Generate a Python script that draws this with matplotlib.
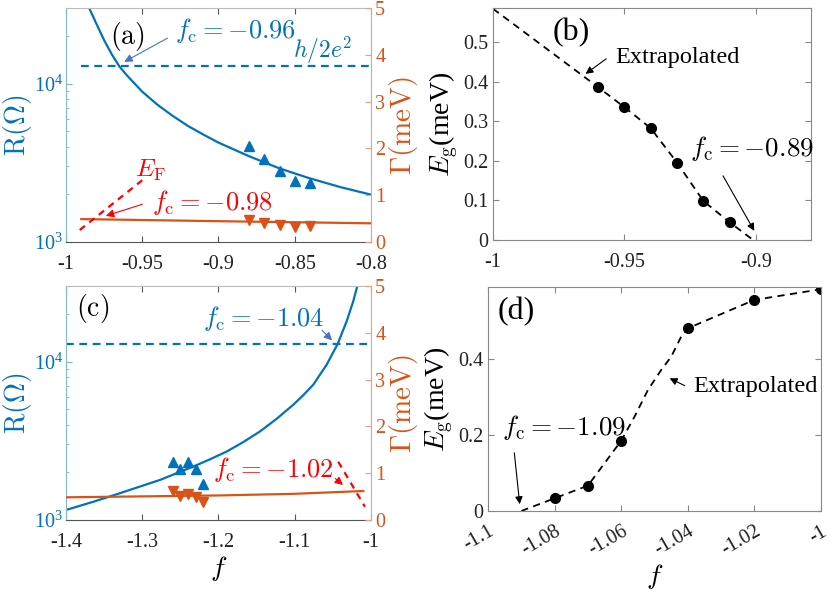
import matplotlib.pyplot as plt
import matplotlib.ticker as mticker

plt.rcParams['font.family'] = ['Liberation Serif', 'DejaVu Serif']
plt.rcParams['mathtext.fontset'] = 'cm'
plt.rcParams['axes.unicode_minus'] = False

BLUE = '#0072BD'
ORANGE = '#D95319'
RED = '#FF0000'
ARROW_BLUE = '#4A72C8'
GREY = '#555555'

# quantum resistance h/2e^2 in ohm
h2e2 = 12906

# ---- panel (a) data ----
fa_fit = [-0.985, -0.98, -0.975, -0.97, -0.965, -0.96, -0.95, -0.94, -0.93,
          -0.92, -0.91, -0.90, -0.88, -0.86, -0.84, -0.82, -0.80]
Ra_fit = [30270, 23770, 18790, 15310, 12830, 11250, 8890, 7350, 6250,
          5400, 4770, 4240, 3480, 2915, 2520, 2220, 1990]
fa_pts = [-0.88, -0.87, -0.86, -0.85, -0.84]
Ra_pts = [4045, 3325, 2804, 2421, 2365]
Ga_pts = [0.47, 0.41, 0.36, 0.33, 0.35]
fa_gfit = [-0.99, -0.9, -0.8]
Ga_gfit = [0.49, 0.445, 0.40]
fa_ef = [-0.991, -0.950]
Ga_ef = [0.256, 1.32]
fa_h = [-0.99, -0.80]

# ---- panel (c) data ----
fc_fit = [-1.400, -1.364, -1.3335, -1.2767, -1.233, -1.2112, -1.1892, -1.1675,
          -1.1456, -1.1237, -1.1019, -1.0888, -1.0757, -1.0581, -1.0437,
          -1.0319, -1.0232, -1.0174]
Rc_fit = [1157, 1305, 1454, 1791, 2175, 2416, 2706, 3105,
          3623, 4355, 5343, 6138, 7152, 9572, 12940,
          17990, 24100, 30690]
fc_pts = [-1.26, -1.25, -1.24, -1.23, -1.22]
Rc_pts = [2317, 2094, 2339, 2094, 1690]
Gc_pts = [0.62, 0.51, 0.55, 0.485, 0.38]
fc_gfit = [-1.40, -1.20, -1.10, -1.01]
Gc_gfit = [0.485, 0.525, 0.56, 0.62]
fc_ef = [-1.043, -1.008]
Gc_ef = [1.246, 0.284]
fc_h = [-1.40, -1.00]

# ---- panel (b) data ----
fb_pts = [-0.96, -0.95, -0.94, -0.93, -0.92, -0.91]
Eb_pts = [0.3865, 0.336, 0.283, 0.196, 0.099, 0.045]
fb_line = [-1.0, -0.96, -0.95, -0.94, -0.93, -0.92, -0.91, -0.901]
Eb_line = [0.585, 0.3865, 0.336, 0.283, 0.196, 0.099, 0.045, 0.0]

# ---- panel (d) data ----
fd_pts = [-1.08, -1.07, -1.06, -1.04, -1.02, -1.00]
Ed_pts = [0.0335, 0.067, 0.1855, 0.482, 0.557, 0.585]
fd_line = [-1.09, -1.08, -1.07, -1.06, -1.056, -1.052, -1.048, -1.045,
           -1.042, -1.04, -1.02, -1.00]
Ed_line = [0.0, 0.0335, 0.067, 0.1855, 0.249, 0.319, 0.372, 0.407,
           0.46, 0.482, 0.557, 0.585]

xa_ticks = [-1, -0.95, -0.9, -0.85, -0.8]
xa_labels = ['-1', '-0.95', '-0.9', '-0.85', '-0.8']
xc_ticks = [-1.4, -1.3, -1.2, -1.1, -1.0]
xc_labels = ['-1.4', '-1.3', '-1.2', '-1.1', '-1']
xb_ticks = [-1, -0.95, -0.9]
xb_labels = ['-1', '-0.95', '-0.9']
yb_ticks = [0, 0.1, 0.2, 0.3, 0.4, 0.5]
yb_labels = ['0', '0.1', '0.2', '0.3', '0.4', '0.5']
xd_ticks = [-1.1, -1.08, -1.06, -1.04, -1.02, -1.0]
xd_labels = ['-1.1', '-1.08', '-1.06', '-1.04', '-1.02', '-1']
yd_ticks = [0, 0.2, 0.4]
yd_labels = ['0', '0.2', '0.4']
g_ticks = [0, 1, 2, 3, 4, 5]

TICK_FS = 14.5
fig = plt.figure(figsize=(8.3, 5.91), dpi=100)


def rg_panel(rect, xlim, xticks, xlabels, f_fit, R_fit, f_pts, R_pts, G_pts,
             f_gfit, G_gfit, f_ef, G_ef, f_h):
    ax = fig.add_axes(rect)
    ax2 = ax.twinx()
    ax.set_yscale('log')
    ax.set_ylim(1e3, 3e4)
    ax.set_xlim(*xlim)
    ax2.set_ylim(0, 5)
    ax.set_xticks(xticks)
    ax.set_xticklabels(xlabels)
    ax.set_yticks([1e3, 1e4])
    ax.yaxis.set_major_formatter(mticker.LogFormatterMathtext())
    ax.yaxis.set_minor_formatter(mticker.NullFormatter())
    ax2.set_yticks(g_ticks)

    ax.plot(f_fit, R_fit, color=BLUE, lw=1.6)
    ax.plot(f_h, [h2e2, h2e2], color=BLUE, lw=1.6, ls=(0, (3.5, 2.5)))
    ax.plot(f_pts, R_pts, '^', color=BLUE, ms=7, ls='none')
    ax2.plot(f_gfit, G_gfit, color=ORANGE, lw=1.6)
    ax2.plot(f_pts, G_pts, 'v', color=ORANGE, ms=7, ls='none')
    ax2.plot(f_ef, G_ef, color=RED, lw=1.6, ls=(0, (3, 2.5)))

    for s in ['left', 'right', 'top', 'bottom']:
        ax2.spines[s].set_visible(s == 'right')
    ax.spines['right'].set_visible(False)
    ax.spines['left'].set_color('#7FB8DE')
    ax.spines['top'].set_color('#BBBBBB')
    ax.spines['bottom'].set_color(GREY)
    ax2.spines['right'].set_color('#E8A080')
    for sp in list(ax.spines.values()) + list(ax2.spines.values()):
        sp.set_linewidth(0.8)

    ax.tick_params(axis='x', which='both', direction='in', top=True,
                   labelsize=TICK_FS, length=4, colors=GREY, labelcolor='#222222', pad=9)
    ax.tick_params(axis='y', which='both', direction='in', right=False,
                   colors='#7FB8DE', labelcolor=BLUE, labelsize=TICK_FS, pad=2)
    ax.tick_params(axis='y', which='major', length=4)
    ax.tick_params(axis='y', which='minor', length=2.5)
    ax2.tick_params(axis='y', direction='in', colors='#E8A080',
                    labelcolor=ORANGE, labelsize=TICK_FS, length=4, pad=3)
    ax.set_ylabel(r'$\mathrm{R}(\Omega)$', color=BLUE, fontsize=20, labelpad=0)
    ax2.set_ylabel(r'$\Gamma(\mathrm{meV})$', color=ORANGE, fontsize=21, labelpad=1)
    return ax, ax2


# ---- (a) ----
ax, ax2 = rg_panel([0.0795, 0.5905, 0.3675, 0.396], (-1, -0.8), xa_ticks, xa_labels,
                   fa_fit, Ra_fit, fa_pts, Ra_pts, Ga_pts, fa_gfit, Ga_gfit,
                   fa_ef, Ga_ef, fa_h)
ax.text(0.144, 0.88, r'$\mathrm{(a)}$', transform=ax.transAxes, fontsize=20, va='center')
ax.text(0.357, 0.902, r'$f_\mathrm{c}=-0.96$', transform=ax.transAxes,
        fontsize=19, color=BLUE, va='center')
ax.text(0.744, 0.8205, r'$h/2e^2$', transform=ax.transAxes,
        fontsize=17, color=BLUE, va='center')
ax.annotate('', xy=(0.183, 0.764), xytext=(0.341, 0.877), xycoords='axes fraction',
            arrowprops=dict(arrowstyle='-|>', color=ARROW_BLUE, lw=0.8, mutation_scale=12))
ax.text(0.226, 0.308, r'$E_\mathrm{F}$', transform=ax.transAxes,
        fontsize=18, color=RED, va='center')
ax.text(0.282, 0.167, r'$f_\mathrm{c}=-0.98$', transform=ax.transAxes,
        fontsize=19, color=RED, va='center')
ax.annotate('', xy=(0.122, 0.108), xytext=(0.259, 0.165), xycoords='axes fraction',
            arrowprops=dict(arrowstyle='-|>', color=RED, lw=0.8, mutation_scale=12))

# ---- (c) ----
ax, ax2 = rg_panel([0.0795, 0.1201, 0.3675, 0.396], (-1.4, -1.0), xc_ticks, xc_labels,
                   fc_fit, Rc_fit, fc_pts, Rc_pts, Gc_pts, fc_gfit, Gc_gfit,
                   fc_ef, Gc_ef, fc_h)
ax.set_xlabel(r'$f$', fontsize=20, labelpad=2)
ax.text(0.033, 0.902, r'$\mathrm{(c)}$', transform=ax.transAxes, fontsize=20, va='center')
ax.text(0.449, 0.863, r'$f_\mathrm{c}=-1.04$', transform=ax.transAxes,
        fontsize=19, color=BLUE, va='center')
ax.annotate('', xy=(0.879, 0.759), xytext=(0.833, 0.819), xycoords='axes fraction',
            arrowprops=dict(arrowstyle='-|>', color=ARROW_BLUE, lw=0.8, mutation_scale=12))
ax.text(0.482, 0.214, r'$f_\mathrm{c}=-1.02$', transform=ax.transAxes,
        fontsize=19, color=RED, va='center')
ax.annotate('', xy=(0.915, 0.142), xytext=(0.876, 0.185), xycoords='axes fraction',
            arrowprops=dict(arrowstyle='-|>', color=RED, lw=0.8, mutation_scale=12))


def eg_panel(rect, xlim, ylim, xticks, xlabels, yticks, ylabels, f_line, E_line, f_pts, E_pts):
    ax = fig.add_axes(rect)
    ax.plot(f_line, E_line, color='black', lw=1.3, ls=(0, (4, 3)))
    ax.plot(f_pts, E_pts, 'o', color='black', ms=7, ls='none')
    ax.set_xlim(*xlim)
    ax.set_ylim(*ylim)
    ax.set_xticks(xticks)
    ax.set_xticklabels(xlabels)
    ax.set_yticks(yticks)
    ax.set_yticklabels(ylabels)
    for sp in ax.spines.values():
        sp.set_color('#888888')
        sp.set_linewidth(0.8)
    ax.tick_params(direction='in', top=True, right=True, length=4,
                   colors='#888888', labelcolor='#222222', labelsize=TICK_FS)
    ax.set_ylabel(r'$E_\mathrm{g}$(meV)', fontsize=20, labelpad=2)
    return ax


# ---- (b) ----
ax = eg_panel([0.594, 0.5939, 0.3831, 0.3926], (-1, -0.879), (0, 0.587),
              xb_ticks, xb_labels, yb_ticks, yb_labels, fb_line, Eb_line, fb_pts, Eb_pts)
ax.tick_params(axis='x', pad=9)
ax.text(0.189, 0.895, '(b)', transform=ax.transAxes, fontsize=23, va='center')
ax.text(0.384, 0.785, 'Extrapolated', transform=ax.transAxes, fontsize=17.5, va='center')
ax.annotate('', xy=(0.284, 0.709), xytext=(0.363, 0.788), xycoords='axes fraction',
            arrowprops=dict(arrowstyle='-|>', color='black', lw=0.8, mutation_scale=11))
ax.text(0.619, 0.394, r'$f_\mathrm{c}=-0.89$', transform=ax.transAxes,
        fontsize=19.5, va='center')
ax.annotate('', xy=(0.826, 0.029), xytext=(0.719, 0.287), xycoords='axes fraction',
            arrowprops=dict(arrowstyle='-|>', color='black', lw=0.8, mutation_scale=11))

# ---- (d) ----
ax = eg_panel([0.588, 0.1354, 0.4012, 0.379], (-1.1, -1.0), (0, 0.591),
              xd_ticks, xd_labels, yd_ticks, yd_labels, fd_line, Ed_line, fd_pts, Ed_pts)
for lab in ax.get_xticklabels():
    lab.set_rotation(30)
    lab.set_ha('right')
    lab.set_rotation_mode('anchor')
ax.tick_params(axis='x', pad=8)
ax.set_xlabel(r'$f$', fontsize=20, labelpad=2)
ax.text(0.030, 0.888, '(d)', transform=ax.transAxes, fontsize=23, va='center')
ax.text(0.616, 0.554, 'Extrapolated', transform=ax.transAxes, fontsize=17.5, va='center')
ax.annotate('', xy=(0.538, 0.598), xytext=(0.598, 0.554), xycoords='axes fraction',
            arrowprops=dict(arrowstyle='-|>', color='black', lw=0.8, mutation_scale=11))
ax.text(0.042, 0.371, r'$f_\mathrm{c}=-1.09$', transform=ax.transAxes,
        fontsize=19.5, va='center')
ax.annotate('', xy=(0.096, 0.018), xytext=(0.078, 0.272), xycoords='axes fraction',
            arrowprops=dict(arrowstyle='-|>', color='black', lw=0.8, mutation_scale=11))

fig.savefig('out.png', dpi=100)
